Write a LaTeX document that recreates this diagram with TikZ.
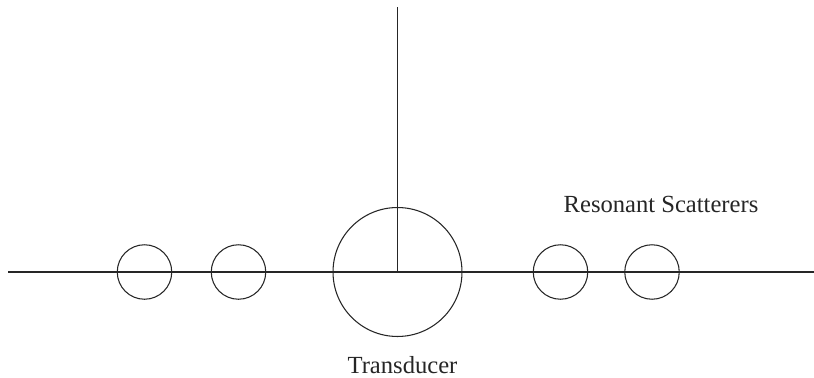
\documentclass[tikz,border=0pt]{standalone}
\usepackage{fontspec}
\setmainfont{Liberation Serif}
\usetikzlibrary{positioning}
\colorlet{ink}{black!85}
\colorlet{paper}{white}
\tikzset{
  scat/.style   ={draw=ink, circle, inner sep=0pt, line width=0.6pt,
                  minimum size=1.09cm},
  trans/.style  ={draw=ink, circle, inner sep=0pt, line width=0.6pt,
                  minimum size=2.58cm},
  axisline/.style ={-, ink, line width=0.9pt},
  beamline/.style ={-, ink, line width=0.5pt},
  lbl/.style    ={font=\fontsize{14}{16}\selectfont, anchor=base,
                  inner sep=0pt, text=ink},
}
\begin{document}
\begin{tikzpicture}[x=0.02cm, y=-0.02cm]
\useasboundingbox[fill=paper] (0,0) rectangle (814,378);

% axis and beam
\coordinate (axL) at (8,272);
\coordinate (axR) at (814,272);
\coordinate (beamTop) at (397.5,7);
\draw[axisline] (axL) -- (axR);

% transducer
\node[trans] (T) at (397.5,272) {};
\draw[beamline] (T.center) -- (beamTop);
\node[lbl] (Tlabel) at (402.5,373) {Transducer};

% scatterers
\foreach \name/\xpos in {S1/144.5, S2/238.5, S3/560.5, S4/652}
  \node[scat] (\name) at (\xpos,272) {};
\node[lbl] (Slabel) at (661,212.5) {Resonant Scatterers};

\end{tikzpicture}
\end{document}
